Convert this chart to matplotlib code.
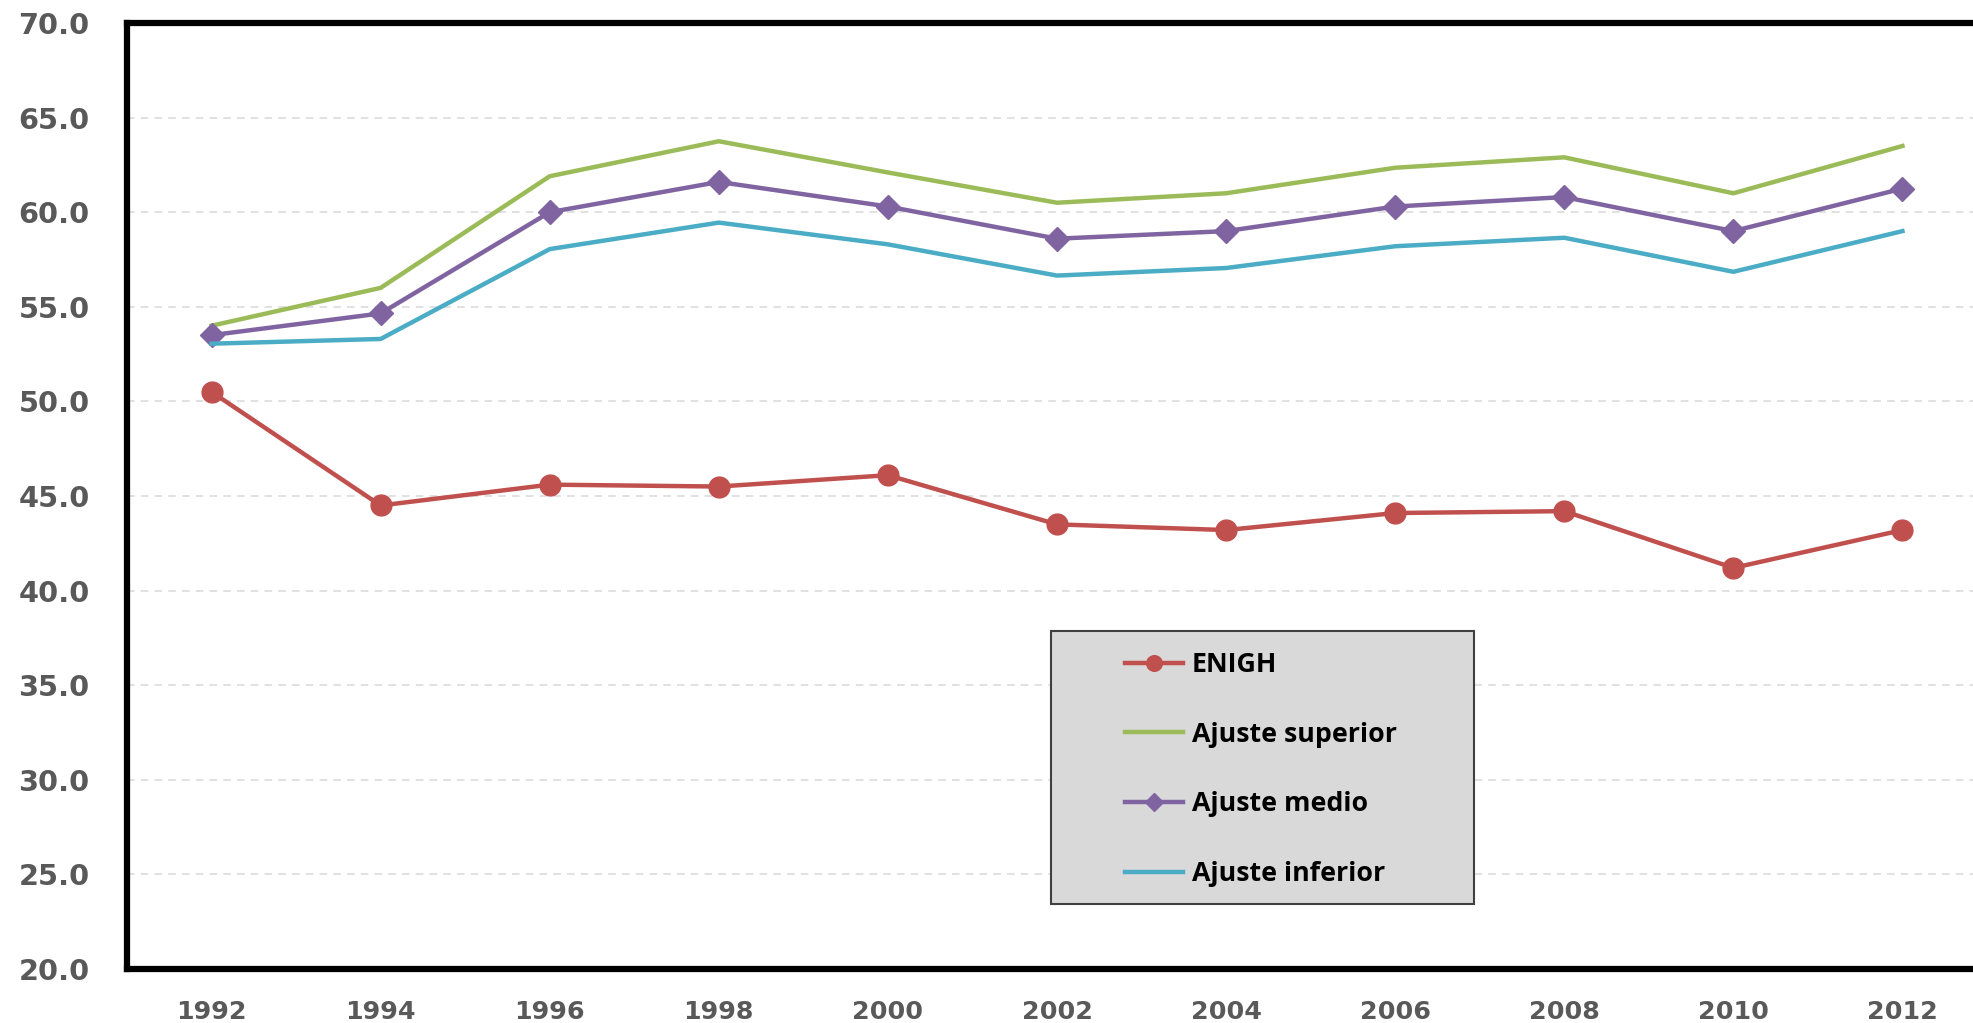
import matplotlib
matplotlib.use("Agg")
import matplotlib.pyplot as plt
from matplotlib.patches import Rectangle

years = [1992, 1994, 1996, 1998, 2000, 2002, 2004, 2006, 2008, 2010, 2012]
enigh = [50.5, 44.5, 45.6, 45.5, 46.1, 43.5, 43.2, 44.1, 44.2, 41.2, 43.2]
superior = [54.0, 56.0, 61.9, 63.75, 62.1, 60.5, 61.0, 62.35, 62.9, 61.0, 63.5]
medio = [53.5, 54.65, 60.0, 61.6, 60.3, 58.6, 59.0, 60.3, 60.8, 59.0, 61.25]
inferior = [53.05, 53.3, 58.05, 59.45, 58.3, 56.65, 57.05, 58.2, 58.65, 56.85, 59.0]
yticks = [20, 25, 30, 35, 40, 45, 50, 55, 60, 65, 70]

W, H = 1974, 1023
fig = plt.figure(figsize=(W / 100, H / 100), dpi=100)
fig.patch.set_facecolor("white")
ax = fig.add_axes([127 / W, 54 / H, (1987 - 127) / W, (969 - 23) / H])

ax.plot(years, enigh, color="#c0504d", lw=3.2, marker="o", ms=15, label="ENIGH", zorder=5)
ax.plot(years, superior, color="#9bbb59", lw=3.2, label="Ajuste superior", zorder=4)
ax.plot(years, medio, color="#8064a2", lw=3.2, marker="D", ms=12, label="Ajuste medio", zorder=4)
ax.plot(years, inferior, color="#4bacc6", lw=3.2, label="Ajuste inferior", zorder=4)

ax.set_xlim(1991, 2013)
ax.set_ylim(20, 70)
ax.set_xticks(years)
ax.set_xticklabels([str(y) for y in years])
ax.set_yticks(yticks)
ax.set_yticklabels([f"{v:.1f}" for v in yticks])
ax.yaxis.grid(True, color="#d9d9d9", ls=(0, (5, 4)), lw=1.1)
ax.set_axisbelow(True)

for s in ["left", "top", "bottom"]:
    ax.spines[s].set_linewidth(4.5)
    ax.spines[s].set_color("black")
ax.spines["right"].set_visible(False)

ax.tick_params(axis="both", length=0)
ax.tick_params(axis="y", pad=27, labelsize=20.8, labelcolor="#595959")
ax.tick_params(axis="x", pad=22, labelsize=18.3, labelcolor="#595959")
for lab in ax.get_xticklabels() + ax.get_yticklabels():
    lab.set_fontweight("bold")
    lab.set_family("DejaVu Sans")

# legend box
rect = Rectangle((1051 / W, 1 - 904 / H), (1474 - 1051) / W, (904 - 631) / H,
                 transform=fig.transFigure, facecolor="#d9d9d9", edgecolor="#404040",
                 lw=1.5, zorder=10)
fig.patches.append(rect)

leg = fig.legend(loc="upper left", bbox_to_anchor=(1125 / W, 1 - 652 / H),
                 frameon=False, borderpad=0, borderaxespad=0,
                 handlelength=2.15, handletextpad=0.35, labelspacing=1.63,
                 markerscale=0.75,
                 prop={"family": "Open Sans", "weight": "bold", "size": 19.3})
leg.set_zorder(11)

fig.savefig("out.png", dpi=100, facecolor="white")
